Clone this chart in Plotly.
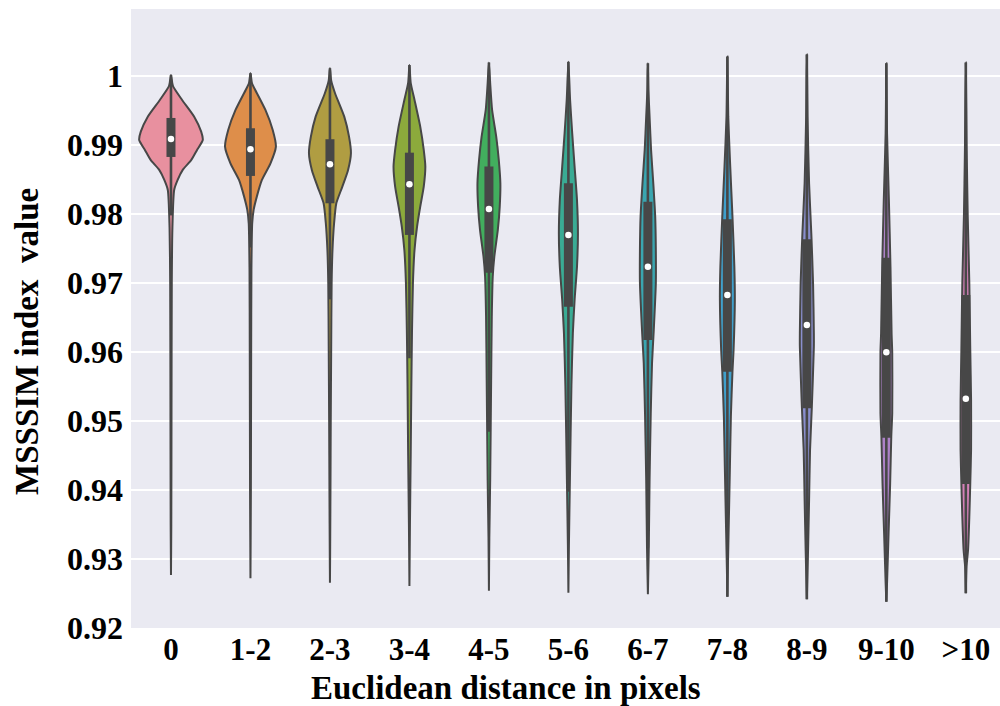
import plotly.graph_objects as go

categories = ["0", "1-2", "2-3", "3-4", "4-5", "5-6", "6-7", "7-8", "8-9", "9-10", ">10"]
colors = ["#e8909f", "#de8e4a", "#b09d42", "#8caa3c", "#42ae5e", "#3aab94",
          "#3aa6b0", "#40a0cc", "#8a8fce", "#ad82c8", "#d481b8"]

q1 = [0.98826, 0.98551, 0.98155, 0.97696, 0.97149, 0.96657, 0.96174, 0.95714, 0.95184, 0.94758, 0.94087]
median = [0.99087, 0.98938, 0.98720, 0.98430, 0.98072, 0.97696, 0.97236, 0.96826, 0.96391, 0.95996, 0.95323]
q3 = [0.99391, 0.99242, 0.99083, 0.98888, 0.98686, 0.98445, 0.98178, 0.97923, 0.97633, 0.97367, 0.96826]
vmin = [0.92768, 0.92720, 0.92657, 0.92610, 0.92540, 0.92510, 0.92488, 0.92454, 0.92416, 0.92381, 0.92503]
vmax = [1.00014, 1.00039, 1.00111, 1.00159, 1.00193, 1.00207, 1.00184, 1.00280, 1.00309, 1.00184, 1.00193]

# density profiles (value, relative width 0..1)
profile_values = [
    [1.00014, 0.9990, 0.99845, 0.99652, 0.99410, 0.99193, 0.99072, 0.98928, 0.98783, 0.98638, 0.98493, 0.98348, 0.978, 0.970, 0.950, 0.935, 0.92768],
    [1.00039, 0.9989, 0.99797, 0.99507, 0.99217, 0.98975, 0.98734, 0.98493, 0.98251, 0.98058, 0.97865, 0.972, 0.960, 0.940, 0.92720],
    [1.00111, 0.9993, 0.99749, 0.99410, 0.99120, 0.98879, 0.98638, 0.98396, 0.98155, 0.97865, 0.97478, 0.970, 0.960, 0.950, 0.940, 0.930, 0.92657],
    [1.00159, 0.9990, 0.99652, 0.99265, 0.98928, 0.98686, 0.98396, 0.98106, 0.97816, 0.97478, 0.96996, 0.96275, 0.955, 0.945, 0.935, 0.92610],
    [1.00193, 0.99894, 0.99507, 0.99120, 0.98783, 0.98445, 0.98106, 0.97768, 0.97381, 0.97091, 0.96512, 0.9559, 0.9415, 0.933, 0.92540],
    [1.00207, 0.99652, 0.99169, 0.98686, 0.98203, 0.97720, 0.97236, 0.96754, 0.96271, 0.9551, 0.94145, 0.932, 0.92510],
    [1.00184, 0.998, 0.99410, 0.98928, 0.98445, 0.97961, 0.97478, 0.96996, 0.96319, 0.95836, 0.95112, 0.94145, 0.93172, 0.92488],
    [1.00280, 0.99410, 0.98686, 0.97961, 0.97236, 0.96754, 0.96029, 0.95714, 0.95062, 0.94338, 0.93372, 0.92648, 0.92454],
    [1.00309, 0.99410, 0.98445, 0.97720, 0.96996, 0.96271, 0.96077, 0.95184, 0.94580, 0.93855, 0.93130, 0.92416],
    [1.00184, 0.99169, 0.98203, 0.97236, 0.96271, 0.95996, 0.95112, 0.94772, 0.94097, 0.93372, 0.92648, 0.92381],
    [1.00193, 0.98928, 0.97961, 0.96996, 0.96029, 0.95304, 0.94580, 0.94097, 0.93613, 0.93130, 0.92888, 0.92503],
]
profile_density = [
    [0, 0.04, 0.07, 0.35, 0.73, 0.95, 1.00, 0.82, 0.64, 0.37, 0.21, 0.10, 0.045, 0.025, 0.016, 0.01, 0],
    [0, 0.05, 0.15, 0.47, 0.70, 0.80, 0.63, 0.36, 0.20, 0.10, 0.055, 0.03, 0.022, 0.013, 0],
    [0, 0.04, 0.16, 0.45, 0.60, 0.66, 0.57, 0.39, 0.20, 0.13, 0.08, 0.053, 0.038, 0.025, 0.016, 0.005, 0],
    [0, 0.04, 0.16, 0.34, 0.45, 0.50, 0.45, 0.34, 0.24, 0.16, 0.11, 0.08, 0.06, 0.04, 0.016, 0],
    [0, 0.04, 0.10, 0.23, 0.31, 0.36, 0.34, 0.28, 0.17, 0.12, 0.09, 0.07, 0.04, 0.013, 0],
    [0, 0.053, 0.12, 0.195, 0.27, 0.30, 0.27, 0.195, 0.14, 0.095, 0.047, 0.016, 0],
    [0, 0.016, 0.053, 0.10, 0.17, 0.23, 0.25, 0.25, 0.185, 0.13, 0.09, 0.053, 0.028, 0],
    [0, 0.028, 0.09, 0.16, 0.22, 0.235, 0.195, 0.16, 0.11, 0.08, 0.038, 0.006, 0],
    [0, 0.022, 0.07, 0.14, 0.195, 0.22, 0.22, 0.155, 0.10, 0.07, 0.038, 0],
    [0, 0.022, 0.08, 0.13, 0.165, 0.185, 0.185, 0.155, 0.12, 0.07, 0.022, 0],
    [0, 0.028, 0.06, 0.11, 0.14, 0.165, 0.165, 0.14, 0.11, 0.07, 0.022, 0],
]

y_ticks = [0.92, 0.93, 0.94, 0.95, 0.96, 0.97, 0.98, 0.99, 1.00]
y_tick_text = ["0.92", "0.93", "0.94", "0.95", "0.96", "0.97", "0.98", "0.99", "1"]

GRAY = "#474747"
HALF = 0.4
FONT = "Liberation Serif, Times New Roman, serif"

fig = go.Figure()

for i, cat in enumerate(categories):
    vals = profile_values[i]
    dens = profile_density[i]
    xs = [i + HALF * d for d in dens] + [i - HALF * d for d in reversed(dens)]
    ys = list(vals) + list(reversed(vals))
    fig.add_trace(go.Scatter(
        x=xs, y=ys, mode="lines", fill="toself", fillcolor=colors[i],
        line=dict(color=GRAY, width=2.0, shape="spline", smoothing=0.6),
        hoverinfo="skip", showlegend=False))

for i, cat in enumerate(categories):
    iqr = q3[i] - q1[i]
    lo = max(vmin[i], q1[i] - 1.5 * iqr)
    hi = min(vmax[i], q3[i] + 1.5 * iqr)
    fig.add_trace(go.Scatter(x=[i, i], y=[lo, hi], mode="lines",
                             line=dict(color=GRAY, width=2.6),
                             hoverinfo="skip", showlegend=False))
    fig.add_trace(go.Scatter(x=[i, i], y=[q1[i], q3[i]], mode="lines",
                             line=dict(color=GRAY, width=9),
                             hoverinfo="skip", showlegend=False))

fig.add_trace(go.Scatter(x=list(range(len(categories))), y=median, mode="markers",
                         marker=dict(color="white", size=6.5, line=dict(width=0)),
                         hoverinfo="skip", showlegend=False))

fig.update_layout(
    width=1000, height=706,
    margin=dict(l=131, r=0, t=9, b=78),
    paper_bgcolor="white", plot_bgcolor="#eaeaf2",
    font=dict(family=FONT, color="black"),
    xaxis=dict(range=[-0.503, 10.43], tickmode="array",
               tickvals=list(range(len(categories))), ticktext=categories,
               showgrid=False, zeroline=False, showline=False, ticks="",
               tickfont=dict(family=FONT, size=31, weight="bold", color="black")),
    yaxis=dict(range=[0.92, 1.0097], tickmode="array", tickvals=y_ticks, ticktext=y_tick_text,
               showgrid=True, gridcolor="white", gridwidth=1.6, zeroline=False,
               showline=False, ticks="", ticklabelstandoff=7,
               tickfont=dict(family=FONT, size=32, weight="bold", color="black")),
    annotations=[
        dict(text="Euclidean distance in pixels", xref="paper", yref="paper",
             x=0.4315, y=-0.097, xanchor="center", yanchor="middle", showarrow=False,
             font=dict(family=FONT, size=33, weight="bold", color="black")),
        dict(text="MSSSIM index  value", xref="paper", yref="paper",
             x=-0.1197, y=0.4637, xanchor="center", yanchor="middle", showarrow=False,
             textangle=-90,
             font=dict(family=FONT, size=33, weight="bold", color="black")),
    ],
)

fig.write_html("out.html")
